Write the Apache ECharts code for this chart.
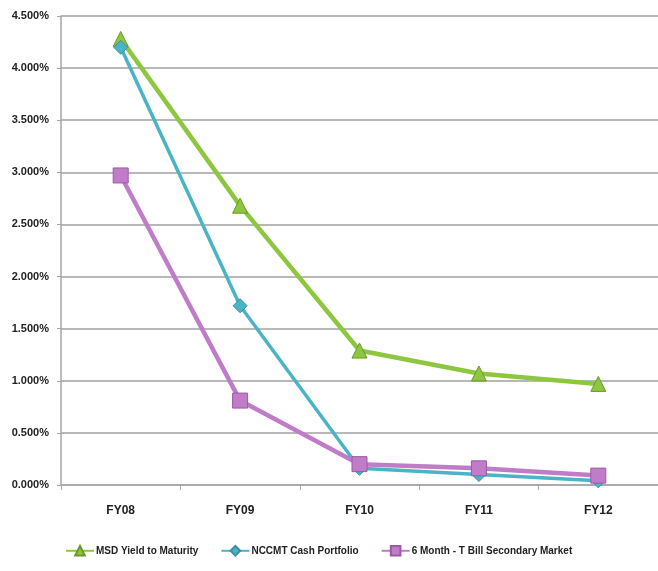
<!DOCTYPE html>
<html><head><meta charset="utf-8">
<script src="https://cdn.jsdelivr.net/npm/echarts@6/dist/echarts.min.js"></script>
<style>html,body{margin:0;padding:0;background:#fff}#c{width:658px;height:571px}</style>
</head><body><div id="c"></div>
<script>
var categories = ['FY08','FY09','FY10','FY11','FY12'];
var msdYield = [4.28, 2.68, 1.29, 1.07, 0.97];
var nccmtCash = [4.20, 1.72, 0.16, 0.10, 0.04];
var tBill6m = [2.97, 0.81, 0.20, 0.16, 0.09];
var seriesNames = ['MSD Yield to Maturity','NCCMT Cash Portfolio','6 Month - T Bill Secondary Market'];
var FONT = '"Liberation Sans","Arial",sans-serif';
var chart = echarts.init(document.getElementById('c'));
function ser(name, data, color, symbol, size, width, border){
  return {name:name, type:'line', data:data, symbol:symbol, symbolSize:size, showSymbol:true,
    lineStyle:{color:color, width:width}, itemStyle:{color:color, borderColor:border, borderWidth:1, opacity:1},
    z: 2};
}
chart.setOption({
  animation:false,
  grid:{left:61, right:-3, top:16, bottom:86, containLabel:false},
  xAxis:{type:'category', data:categories, boundaryGap:true,
    axisLine:{lineStyle:{color:'#a6a6a6', width:1.5}},
    axisTick:{show:true, length:5, lineStyle:{color:'#a6a6a6'}},
    axisLabel:{margin:20, color:'#222', fontFamily:FONT, fontSize:12, fontWeight:'bold'}},
  yAxis:{type:'value', min:0, max:4.5, interval:0.5,
    axisLine:{show:true, lineStyle:{color:'#a6a6a6', width:1.5}},
    axisTick:{show:true, length:4, inside:false, lineStyle:{color:'#a6a6a6'}},
    splitLine:{lineStyle:{color:'#a0a0a0', width:1.5}},
    axisLabel:{margin:12, color:'#222', fontFamily:FONT, fontSize:11, fontWeight:'bold',
      formatter:function(v){return v.toFixed(3)+'%';}}},
  legend:{top:540, left:60, width:620, itemGap:22, itemWidth:28, itemHeight:12,
    textStyle:{fontFamily:FONT, fontSize:10, fontWeight:'bold', color:'#222', padding:[0,0,0,-3]},
    data:seriesNames},
  series:[
    ser(seriesNames[0], msdYield, '#8dc63f', 'triangle', 15, 4.5, '#6a9a2a'),
    ser(seriesNames[1], nccmtCash, '#4bb3c6', 'diamond', 14, 3.5, '#3a90a0'),
    ser(seriesNames[2], tBill6m, '#c07cc8', 'rect', 15, 4.5, '#9a5aa4')
  ]
});
</script></body></html>
